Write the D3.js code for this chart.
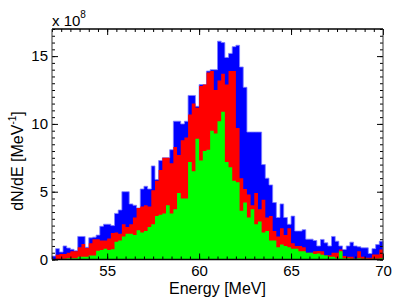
<!DOCTYPE html>
<html><head><meta charset="utf-8">
<script src="https://cdn.jsdelivr.net/npm/d3@7"></script>
<style>body{margin:0;background:#fff} svg{display:block} text{font-family:"Liberation Sans",Arial,Helvetica,sans-serif;fill:#000}</style>
</head><body><svg id="c" width="402" height="307"></svg>
<script>
// Histogram bins: start energy and width (MeV)
const binStart = 52, binWidth = 0.2;
// dN/dE in units of 1e8 MeV^-1
const blue = [0.25,0.8,0.55,1.0,0.85,0.75,0.65,1.7,1.7,0.9,
  1.6,1.65,1.8,2.45,2.6,2.6,2.5,3.4,3.65,5.0,
  5.0,4.1,4.0,3.8,5.2,5.4,5.2,6.9,5.9,7.3,
  7.5,7.5,8.1,10.2,10.2,10.0,10.2,12.1,12.1,11.3,
  12.9,12.9,13.9,14.0,14.0,16.1,16.0,14.9,15.2,15.7,
  15.8,14.2,12.7,9.4,9.4,9.4,9.4,7.0,6.0,5.5,
  4.2,3.1,4.1,3.1,2.6,3.2,2.1,2.1,2.2,1.5,
  1.5,1.4,1.0,1.48,1.23,1.0,1.7,1.35,1.0,0.74,
  1.0,1.28,1.0,0.94,0.86,0.86,0.44,0.8,1.1,1.35];
const red = [0,0.35,0.4,0.4,0.5,0.6,0.6,0.9,1.15,0.85,
  1.2,1.5,1.5,1.4,1.4,1.55,1.95,2.0,1.9,2.6,
  2.4,2.6,3.1,3.8,3.9,4.0,3.9,5.1,5.8,6.6,
  7.5,7.5,7.1,8.3,7.7,8.8,9.0,10.7,11.5,11.2,
  12.8,12.9,13.8,13.9,12.5,13.2,13.7,12.9,13.9,13.9,
  9.7,6.0,5.2,4.8,4.0,4.9,3.7,4.4,3.1,3.2,
  2.1,1.7,2.3,1.8,2.3,1.2,1.0,1.0,0.9,0.5,
  0.5,0.6,0.62,0.6,0.32,0.32,0.5,0.5,0.74,0.25,
  0.2,0.2,0.05,0.6,0.2,0.12,0.12,0.37,0.37,0.74];
const green = [0,0,0,0.05,0.1,0.1,0.1,0.2,0.2,0.2,
  0.3,0.3,0.65,0.7,0.8,0.7,0.75,1.3,1.4,1.7,
  1.9,1.9,1.8,2.15,2.0,2.1,2.4,2.6,3.2,3.3,
  3.4,4.0,3.4,3.7,4.9,4.5,4.5,7.2,6.5,8.9,
  7.3,8.0,8.1,9.5,9.3,10.2,10.9,7.2,6.8,5.8,
  5.7,3.6,4.2,3.1,3.7,2.6,2.8,2.0,2.1,1.4,
  1.4,0.9,1.1,1.0,0.9,0.8,0.8,0.6,0.6,0.5,
  0.5,0.4,0.44,0.35,0.3,0.2,0.2,0.1,0.6,0.1,
  0.1,0.05,0.05,0.1,0.05,0.05,0,0.05,0.05,0.1];
const xTicks = [55, 60, 65, 70];
const yTicks = [0, 5, 10, 15];
const xDomain = [52, 70];
const yDomain = [0, 17];
const xMinorStep = 0.5, yMinorStep = 0.5;

const svg = d3.select("#c");
const L = 52, R = 383, T = 29, B = 259.5;
const x = d3.scaleLinear().domain(xDomain).range([L, R]);
const y = d3.scaleLinear().domain(yDomain).range([B, T]);

function stepData(vals) {
  const pts = vals.map((v, i) => ({e: binStart + i * binWidth, v}));
  pts.push({e: binStart + vals.length * binWidth, v: vals[vals.length - 1]});
  return pts;
}
const area = d3.area().x(d => x(d.e)).y0(y(0)).y1(d => y(d.v)).curve(d3.curveStepAfter);

const series = [
  {vals: blue, fill: "#0000ff", stroke: "#7f7fff"},
  {vals: red, fill: "#ff0000", stroke: "none"},
  {vals: green, fill: "#00ff00", stroke: "none"}
];
series.forEach(s => {
  svg.append("path").datum(stepData(s.vals))
    .attr("d", area).attr("fill", s.fill)
    .attr("stroke", s.stroke).attr("stroke-width", 0.8);
});

// axes
const minorX = d3.range(xDomain[0], xDomain[1] + 1e-9, xMinorStep);
const minorY = d3.range(yDomain[0], yDomain[1] + 1e-9, yMinorStep);
function styleAxis(g) {
  g.select(".domain").remove();
  g.selectAll("line").attr("stroke", "#000").attr("stroke-width", 1);
  g.selectAll("text").style("font-size", "15px").attr("fill", "#000");
}
// minor ticks
svg.append("g").attr("transform", `translate(0,${B})`)
  .call(d3.axisBottom(x).tickValues(minorX).tickSize(-3).tickSizeOuter(0).tickFormat("")).call(styleAxis);
svg.append("g").attr("transform", `translate(0,${T})`)
  .call(d3.axisTop(x).tickValues(minorX).tickSize(-3).tickSizeOuter(0).tickFormat("")).call(styleAxis);
svg.append("g").attr("transform", `translate(${L},0)`)
  .call(d3.axisLeft(y).tickValues(minorY).tickSize(-3).tickSizeOuter(0).tickFormat("")).call(styleAxis);
svg.append("g").attr("transform", `translate(${R},0)`)
  .call(d3.axisRight(y).tickValues(minorY).tickSize(-3).tickSizeOuter(0).tickFormat("")).call(styleAxis);
// major ticks
svg.append("g").attr("transform", `translate(0,${B})`)
  .call(d3.axisBottom(x).tickValues(xTicks).tickSize(-6).tickSizeOuter(0).tickPadding(6).tickFormat(d3.format("d"))).call(styleAxis);
svg.append("g").attr("transform", `translate(0,${T})`)
  .call(d3.axisTop(x).tickValues(xTicks).tickSize(-6).tickSizeOuter(0).tickFormat("")).call(styleAxis);
svg.append("g").attr("transform", `translate(${L},0)`)
  .call(d3.axisLeft(y).tickValues(yTicks).tickSize(-6).tickSizeOuter(0).tickPadding(4).tickFormat(d3.format("d"))).call(styleAxis);
svg.append("g").attr("transform", `translate(${R},0)`)
  .call(d3.axisRight(y).tickValues(yTicks).tickSize(-6).tickSizeOuter(0).tickFormat("")).call(styleAxis);

// frame
svg.append("line").attr("x1", L).attr("x2", R).attr("y1", T).attr("y2", T).attr("stroke", "#000").attr("stroke-width", 1.6);
svg.append("line").attr("x1", L).attr("x2", R).attr("y1", B).attr("y2", B).attr("stroke", "#000").attr("stroke-width", 1.4);
svg.append("line").attr("x1", L).attr("x2", L).attr("y1", T).attr("y2", B).attr("stroke", "#333").attr("stroke-width", 1);
svg.append("line").attr("x1", R).attr("x2", R).attr("y1", T).attr("y2", B).attr("stroke", "#333").attr("stroke-width", 1);

// exponent label
const ex = svg.append("text").attr("x", L).attr("y", 26).style("font-size", "15px");
ex.append("tspan").text("x 10");
ex.append("tspan").attr("dy", -8).style("font-size", "10px").text("8");

// axis titles
svg.append("text").attr("x", (L + R) / 2).attr("y", 294).attr("text-anchor", "middle")
  .style("font-size", "16px").text("Energy [MeV]");
const yt = svg.append("text").attr("transform", "translate(23,161) rotate(-90)")
  .attr("text-anchor", "middle").style("font-size", "16px");
yt.append("tspan").text("dN/dE [MeV");
yt.append("tspan").attr("dy", -7).style("font-size", "10px").text("-1");
yt.append("tspan").attr("dy", 7).text("]");
</script></body></html>
